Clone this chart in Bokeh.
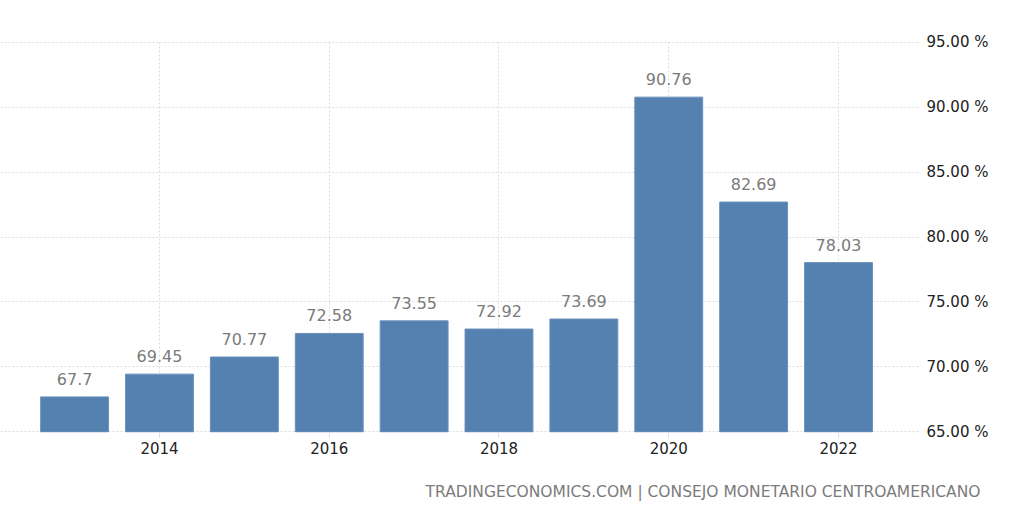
from bokeh.plotting import figure
from bokeh.models import ColumnDataSource, FixedTicker, PrintfTickFormatter, Range1d, Title, LinearAxis
from bokeh.core.properties import value
from bokeh.embed import file_html
from bokeh.resources import INLINE

years = [2013, 2014, 2015, 2016, 2017, 2018, 2019, 2020, 2021, 2022]
values = [67.7, 69.45, 70.77, 72.58, 73.55, 72.92, 73.69, 90.76, 82.69, 78.03]
value_labels = ["67.7", "69.45", "70.77", "72.58", "73.55", "72.92", "73.69", "90.76", "82.69", "78.03"]
x_ticks = [2014, 2016, 2018, 2020, 2022]
y_ticks = [65, 70, 75, 80, 85, 90, 95]
footer = "TRADINGECONOMICS.COM | CONSEJO MONETARIO CENTROAMERICANO"

FONT = "DejaVu Sans"

src = ColumnDataSource(dict(x=years, top=values, label=value_labels))

p = figure(frame_width=920, frame_height=391,
           x_range=Range1d(2012.127, 2022.966), y_range=Range1d(64.96, 95.04),
           output_backend="svg", toolbar_location=None, y_axis_location=None,
           min_border_left=0, min_border_top=41, min_border_right=104, min_border_bottom=90,
           outline_line_color=None, background_fill_color="white", border_fill_color="white")

p.vbar(x="x", top="top", bottom=65, width=0.8, source=src,
       fill_color="#5481b0", line_color="#6a92bd", line_width=1)

p.text(x="x", y="top", text="label", source=src, text_align="center",
       text_baseline="alphabetic", y_offset=-18, text_color="#7b7b7b",
       text_font_size="16px", text_font=value(FONT))

yaxis = LinearAxis(ticker=FixedTicker(ticks=y_ticks),
                   formatter=PrintfTickFormatter(format="%.2f %%"))
yaxis.axis_line_color = None
yaxis.major_tick_line_color = None
yaxis.minor_tick_line_color = None
yaxis.major_label_text_font = FONT
yaxis.major_label_text_font_size = "15px"
yaxis.major_label_text_color = "#222222"
yaxis.major_label_standoff = 0
p.add_layout(yaxis, "right")

p.xaxis.ticker = FixedTicker(ticks=x_ticks)
p.xaxis.axis_line_color = None
p.xaxis.major_tick_line_color = "#dddddd"
p.xaxis.major_tick_out = 5
p.xaxis.major_tick_in = 0
p.xaxis.minor_tick_line_color = None
p.xaxis.major_label_text_font = FONT
p.xaxis.major_label_text_font_size = "15px"
p.xaxis.major_label_text_color = "#222222"
p.xaxis.major_label_standoff = 4

p.xgrid.ticker = FixedTicker(ticks=x_ticks)
p.ygrid.ticker = FixedTicker(ticks=y_ticks)
for g in (p.xgrid, p.ygrid):
    g.grid_line_color = "#dcdcdc"
    g.grid_line_dash = "2 2"
    g.grid_line_width = 1

t = Title(text=footer, align="right", offset=-60, standoff=49,
          text_font=FONT, text_font_size="15.5px", text_font_style="normal",
          text_color="#7b7b7b")
p.add_layout(t, "below")

open("out.html", "w").write(file_html(p, INLINE))
